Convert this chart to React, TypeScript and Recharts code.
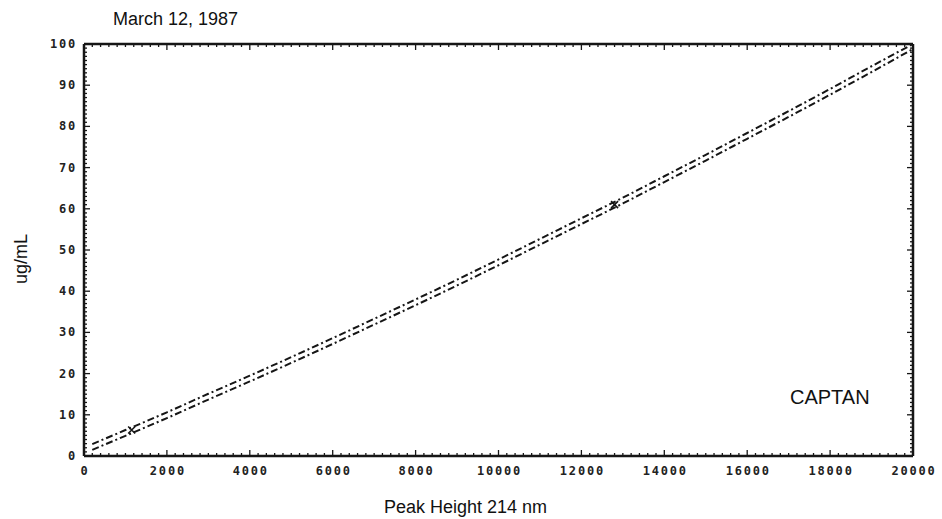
import React from 'react';
import { ComposedChart, Line, Scatter, XAxis, YAxis } from 'recharts';

// Peak height (x) sample positions along the calibration curve
const heights = [200, 1000, 2000, 3000, 4000, 5000, 6000, 7000, 8000, 9000, 10000, 11000, 12000, 13000, 14000, 15000, 16000, 17000, 18000, 19000, 20000];
// Upper and lower dash-dot band lines (ug/mL)
const upperBand = [2.9, 6.3, 10.6, 15.1, 19.5, 24.0, 28.6, 33.3, 38.0, 42.8, 47.7, 52.7, 57.7, 62.7, 67.9, 73.1, 78.4, 83.7, 89.1, 94.6, 100.0];
const lowerBand = [1.5, 4.9, 9.2, 13.7, 18.1, 22.6, 27.2, 31.9, 36.6, 41.4, 46.3, 51.3, 56.3, 61.3, 66.5, 71.7, 77.0, 82.3, 87.7, 93.2, 98.8];
// Marked calibration points
const pointHeights = [1150, 12800];
const pointValues = [6.3, 61.0];

const xMajorTicks = [0, 2000, 4000, 6000, 8000, 10000, 12000, 14000, 16000, 18000, 20000];
const yMajorTicks = [0, 10, 20, 30, 40, 50, 60, 70, 80, 90, 100];
const xMinorStep = 200;
const yMinorStep = 1;

const xTicks: number[] = [];
for (let v = 0; v <= 20000; v += xMinorStep) xTicks.push(v);
const yTicks: number[] = [];
for (let v = 0; v <= 100; v += yMinorStep) yTicks.push(v);

const lineData = heights.map((h, i) => ({ h, upper: upperBand[i], lower: lowerBand[i] }));
const pointData = pointHeights.map((h, i) => ({ h, pt: pointValues[i] }));

const INK = '#161616';
const MAJOR_LEN = 6;
const MINOR_LEN = 3;
const TICK_W = 1.3;
const tickFont = {
  fontFamily: '"DejaVu Sans Mono", monospace',
  fontWeight: 700 as const,
  fontSize: 12,
  letterSpacing: 1.8,
  fill: '#222',
};

const BottomTick = (p: any) => {
  const x = Number(p.x);
  const y = Number(p.y);
  const v = p.payload.value;
  const major = xMajorTicks.includes(v);
  return (
    <g>
      <path d={`M${x},${y}V${y - (major ? MAJOR_LEN : MINOR_LEN)}`} stroke={INK} strokeWidth={TICK_W} />
      {major && (
        <text x={x + 1} y={y + 19} textAnchor="middle" {...tickFont}>
          {v}
        </text>
      )}
    </g>
  );
};

const TopTick = (p: any) => {
  const x = Number(p.x);
  const y = Number(p.y);
  const major = xMajorTicks.includes(p.payload.value);
  return <path d={`M${x},${y}V${y + (major ? MAJOR_LEN : MINOR_LEN)}`} stroke={INK} strokeWidth={TICK_W} />;
};

const LeftTick = (p: any) => {
  const x = Number(p.x);
  const y = Number(p.y);
  const v = p.payload.value;
  const major = yMajorTicks.includes(v);
  return (
    <g>
      <path d={`M${x},${y}H${x + (major ? MAJOR_LEN : MINOR_LEN)}`} stroke={INK} strokeWidth={TICK_W} />
      {major && (
        <text x={x - 7} y={y + 4} textAnchor="end" {...tickFont}>
          {v}
        </text>
      )}
    </g>
  );
};

const RightTick = (p: any) => {
  const x = Number(p.x);
  const y = Number(p.y);
  const major = yMajorTicks.includes(p.payload.value);
  return <path d={`M${x},${y}H${x - (major ? MAJOR_LEN : MINOR_LEN)}`} stroke={INK} strokeWidth={TICK_W} />;
};

const XMark = (p: any) => {
  const { cx, cy } = p;
  if (cx == null || cy == null) return <g />;
  const s = 3.5;
  return (
    <path
      d={`M${cx - s},${cy - s}L${cx + s},${cy + s}M${cx - s},${cy + s}L${cx + s},${cy - s}`}
      stroke={INK}
      strokeWidth={1.6}
      fill="none"
    />
  );
};

const textStyle: React.CSSProperties = {
  position: 'absolute',
  fontFamily: '"Liberation Sans", Arial, sans-serif',
  color: '#111',
  whiteSpace: 'nowrap',
  lineHeight: 1,
};

export default function App() {
  return (
    <div style={{ position: 'absolute', left: 0, top: 0, width: 942, height: 519, background: '#fff' }}>
      <ComposedChart
        width={942}
        height={519}
        data={lineData}
        margin={{ top: 34, right: 19, bottom: 23, left: 0 }}
      >
        <XAxis
          xAxisId="bottom"
          dataKey="h"
          type="number"
          domain={[0, 20000]}
          ticks={xTicks}
          interval={0}
          tickSize={0}
          tickMargin={0}
          height={40}
          axisLine={{ stroke: INK, strokeWidth: 2.5 }}
          tickLine={false}
          tick={BottomTick}
          allowDataOverflow
        />
        <XAxis
          xAxisId="top"
          orientation="top"
          dataKey="h"
          type="number"
          domain={[0, 20000]}
          ticks={xTicks}
          interval={0}
          tickSize={0}
          tickMargin={0}
          height={10}
          axisLine={{ stroke: INK, strokeWidth: 2.5 }}
          tickLine={false}
          tick={TopTick}
          allowDataOverflow
        />
        <YAxis
          yAxisId="left"
          type="number"
          domain={[0, 100]}
          ticks={yTicks}
          interval={0}
          tickSize={0}
          tickMargin={0}
          width={84}
          axisLine={{ stroke: INK, strokeWidth: 2.5 }}
          tickLine={false}
          tick={LeftTick}
          allowDataOverflow
        />
        <YAxis
          yAxisId="right"
          orientation="right"
          type="number"
          domain={[0, 100]}
          ticks={yTicks}
          interval={0}
          tickSize={0}
          tickMargin={0}
          width={10}
          axisLine={{ stroke: INK, strokeWidth: 2.5 }}
          tickLine={false}
          tick={RightTick}
          allowDataOverflow
        />
        <Line
          xAxisId="bottom"
          yAxisId="left"
          dataKey="upper"
          type="monotone"
          stroke={INK}
          strokeWidth={2}
          strokeDasharray="7 3 2 3"
          dot={false}
          isAnimationActive={false}
        />
        <Line
          xAxisId="bottom"
          yAxisId="left"
          dataKey="lower"
          type="monotone"
          stroke={INK}
          strokeWidth={2}
          strokeDasharray="7 3 2 3"
          dot={false}
          isAnimationActive={false}
        />
        <Line
          xAxisId="top"
          yAxisId="right"
          dataKey="upper"
          stroke="none"
          dot={false}
          isAnimationActive={false}
          legendType="none"
        />
        <Scatter
          xAxisId="bottom"
          yAxisId="left"
          data={pointData}
          dataKey="pt"
          shape={XMark}
          isAnimationActive={false}
        />
      </ComposedChart>
      <div style={{ ...textStyle, left: 113, top: 10, fontSize: 18 }}>March 12, 1987</div>
      <div style={{ ...textStyle, left: 790, top: 387, fontSize: 20 }}>CAPTAN</div>
      <div style={{ ...textStyle, left: 384, top: 498, fontSize: 18 }}>Peak Height 214 nm</div>
      <div
        style={{
          ...textStyle,
          left: 21,
          top: 259,
          fontSize: 18,
          transform: 'translate(-50%, -50%) rotate(-90deg)',
        }}
      >
        ug/mL
      </div>
    </div>
  );
}
